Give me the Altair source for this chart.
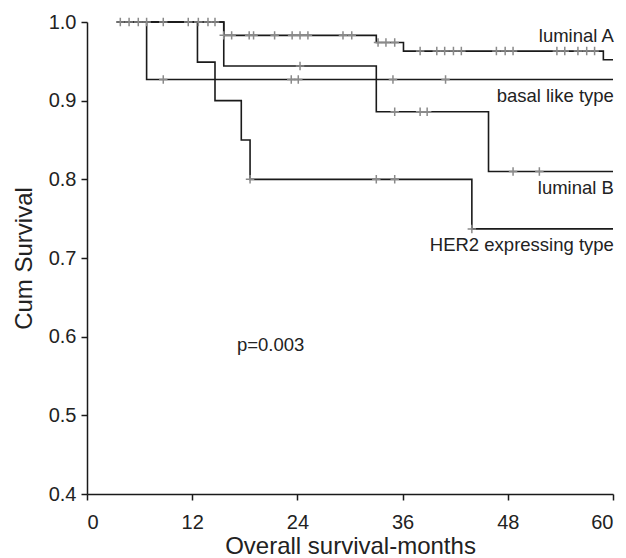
import altair as alt
import pandas as pd

# Kaplan-Meier step curves (time in months, cumulative survival)
groups = ["luminal A", "basal like type", "luminal B", "HER2 expressing type"]

lumA_t = [3.4, 15.6, 33.0, 36.1, 58.9, 60.0]
lumA_s = [1.0, 0.983, 0.974, 0.963, 0.952, 0.952]

basal_t = [3.4, 6.8, 60.0]
basal_s = [1.0, 0.927, 0.927]

lumB_t = [3.4, 15.6, 33.0, 45.8, 60.0]
lumB_s = [1.0, 0.944, 0.886, 0.810, 0.810]

her2_t = [3.4, 12.6, 14.6, 17.6, 18.6, 43.9, 60.0]
her2_s = [1.0, 0.949, 0.900, 0.850, 0.800, 0.737, 0.737]

# censored observations (months)
lumA_c = [3.8, 4.8, 5.85, 6.8, 8.7, 11.55, 12.7, 13.8, 14.6,
          15.6, 16.5, 18.5, 19.0, 21.4, 23.4, 24.3, 25.2, 29.2, 30.2,
          33.2, 34.1, 35.1,
          38.0, 39.9, 40.8, 41.8, 42.7, 46.7, 47.7, 48.6, 53.6, 54.5, 56.0, 57.0, 57.9]
basal_c = [8.7, 23.3, 24.1, 34.9, 40.9]
lumB_c = [24.3, 35.1, 38.0, 38.8, 48.6, 51.6]
her2_c = [18.6, 33.0, 35.1, 43.9]

label_text = ["luminal A", "basal like type", "luminal B", "HER2 expressing type"]
label_x = [60.1, 60.1, 60.1, 60.1]
label_y = [0.9745, 0.898, 0.781, 0.7087]

p_text = ["p=0.003"]
p_x = [17.1]
p_y = [0.582]

x_ticks = [0, 12, 24, 36, 48, 60]
y_ticks = [0.4, 0.5, 0.6, 0.7, 0.8, 0.9, 1.0]

curves = [(lumA_t, lumA_s, lumA_c), (basal_t, basal_s, basal_c),
          (lumB_t, lumB_s, lumB_c), (her2_t, her2_s, her2_c)]

line_rows, cens_rows = [], []
for g, (ts, ss, cs) in zip(groups, curves):
    for t, s in zip(ts, ss):
        line_rows.append({"group": g, "t": t, "s": s})
    for c in cs:
        val = ss[0]
        for t, s in zip(ts, ss):
            if t <= c:
                val = s
        cens_rows.append({"group": g, "t": c, "s": val})

lines_df = pd.DataFrame(line_rows)
cens_df = pd.DataFrame(cens_rows)
labels_df = pd.DataFrame({"label": label_text, "t": label_x, "s": label_y})
p_df = pd.DataFrame({"label": p_text, "t": p_x, "s": p_y})

FONT = "Liberation Sans"
xscale = alt.Scale(domain=[0, 60], nice=False)
yscale = alt.Scale(domain=[0.4, 1.0], nice=False, zero=False)

xenc = alt.X("t:Q", scale=xscale, axis=alt.Axis(
    values=x_ticks, title="Overall survival-months", grid=False,
    labelPadding=12, titleX=263, titleY=59.2, titleBaseline="alphabetic",
    titleAlign="center"))
yenc = alt.Y("s:Q", scale=yscale, axis=alt.Axis(
    values=y_ticks, format=".1f", title="Cum Survival", grid=False,
    labelPadding=5, titleX=-56, titleY=236, titleBaseline="alphabetic",
    titleAlign="center"))

lines = alt.Chart(lines_df).mark_line(
    interpolate="step-after", color="#1a1a1a", strokeWidth=1.6
).encode(x=xenc, y=yenc, detail="group:N")

cens = alt.Chart(cens_df).mark_point(
    shape="M0,-1L0,1M-1,0L1,0", filled=False, color="#8a8a8a",
    strokeWidth=1.5, size=72, opacity=1
).encode(x="t:Q", y="s:Q")

labels = alt.Chart(labels_df).mark_text(
    align="right", baseline="alphabetic", font=FONT, fontSize=18.5, color="#222222"
).encode(x="t:Q", y="s:Q", text="label:N")

ptxt = alt.Chart(p_df).mark_text(
    align="left", baseline="alphabetic", font=FONT, fontSize=18.5, color="#222222"
).encode(x="t:Q", y="s:Q", text="label:N")

chart = alt.layer(lines, cens, labels, ptxt).properties(
    width=526, height=472,
    autosize=alt.AutoSizeParams(type="none"),
    padding={"left": 79, "top": 14, "right": 5, "bottom": 64},
).configure_view(strokeWidth=0).configure_axis(
    domainColor="#1a1a1a", domainWidth=1.5, tickColor="#1a1a1a", tickWidth=1.5,
    tickSize=6, labelFont=FONT, labelFontSize=20, labelColor="#222222",
    titleFont=FONT, titleFontSize=24, titleFontWeight="normal", titleColor="#222222"
)

chart.save("out.html", embed_options={"renderer": "svg", "actions": False})
